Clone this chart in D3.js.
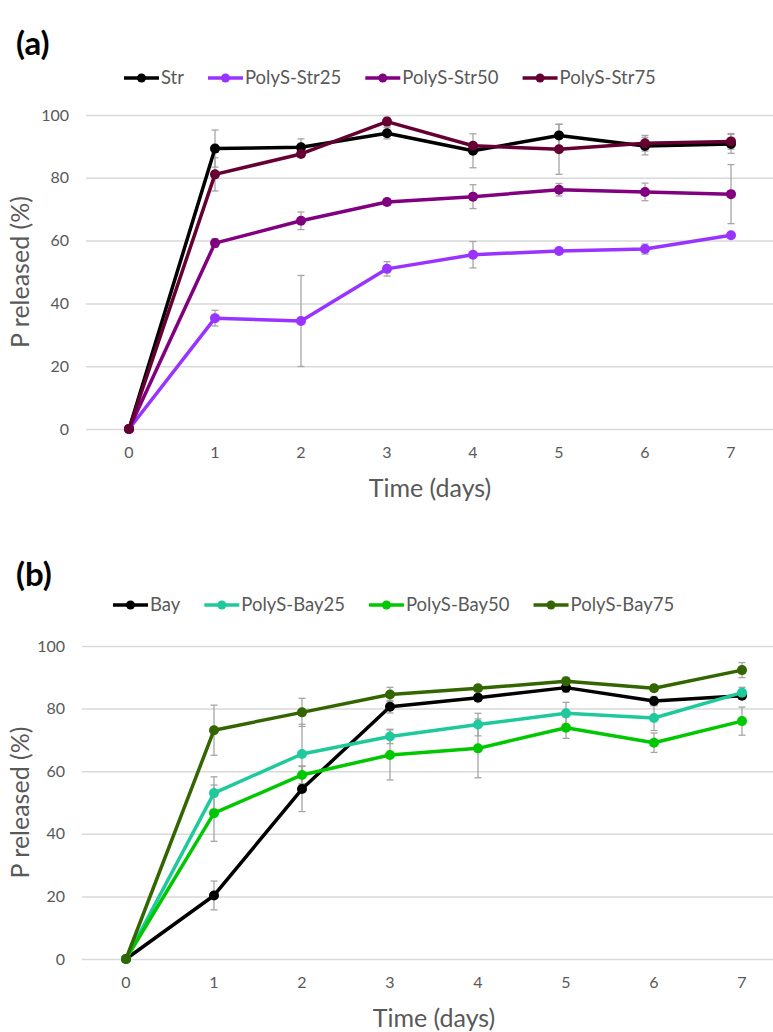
<!DOCTYPE html>
<html>
<head>
<meta charset="utf-8">
<script src="https://cdn.jsdelivr.net/npm/d3@7"></script>
<style>
  body { margin: 0; background: #fff; }
  text { font-family: Lato, "Open Sans", sans-serif; }
</style>
</head>
<body>
<div id="chart"></div>
<script>
const days = [0, 1, 2, 3, 4, 5, 6, 7];
const yTicks = [0, 20, 40, 60, 80, 100];

// panel (a)
const namesA = ["Str", "PolyS-Str25", "PolyS-Str50", "PolyS-Str75"];
const colorsA = ["#000000", "#9933FF", "#800080", "#660033"];
const strVals   = [0, 89.3, 89.7, 94.2, 88.6, 93.5, 90.1, 90.8];
const strErr    = [0, 5.9, 2.7, 1.8, 5.4, 3.5, 2.8, 3.0];
const str25Vals = [0, 35.3, 34.4, 51.0, 55.5, 56.7, 57.3, 61.7];
const str25Err  = [0, 2.5, 14.5, 2.3, 4.2, 0.5, 1.6, 0.6];
const str50Vals = [0, 59.2, 66.3, 72.3, 74.0, 76.2, 75.5, 74.8];
const str50Err  = [0, 1.4, 2.8, 1.0, 3.8, 2.0, 2.8, 9.4];
const str75Vals = [0, 81.1, 87.6, 97.9, 90.2, 89.1, 91.0, 91.6];
const str75Err  = [0, 5.3, 1.0, 1.4, 1.0, 8.0, 2.5, 2.5];

// panel (b)
const namesB = ["Bay", "PolyS-Bay25", "PolyS-Bay50", "PolyS-Bay75"];
const colorsB = ["#000000", "#1FC99B", "#00C800", "#336600"];
const bayVals   = [0, 20.3, 54.3, 80.6, 83.5, 86.7, 82.4, 84.1];
const bayErr    = [0, 4.6, 7.2, 2.0, 1.0, 1.5, 1.5, 1.0];
const bay25Vals = [0, 53.0, 65.5, 71.1, 74.9, 78.5, 77.0, 85.1];
const bay25Err  = [0, 5.2, 9.5, 2.3, 3.6, 3.5, 4.0, 1.7];
const bay50Vals = [0, 46.6, 58.8, 65.2, 67.3, 73.9, 69.1, 76.0];
const bay50Err  = [0, 9.0, 2.9, 8.0, 9.4, 3.4, 3.1, 4.5];
const bay75Vals = [0, 73.1, 78.8, 84.5, 86.5, 88.7, 86.5, 92.3];
const bay75Err  = [0, 8.0, 4.5, 2.3, 1.0, 1.3, 1.0, 2.4];

const svg = d3.select("#chart")
    .append("svg")
    .attr("width", 773)
    .attr("height", 1032);

function drawPanel(p) {
    const g = svg.append("g");

    // x is a category axis: each day sits in the middle of its slot
    const x = d3.scaleBand()
        .domain(days)
        .range([p.left, p.right]);
    const cx = d => x(d) + x.bandwidth() / 2;

    const y = d3.scaleLinear()
        .domain([0, 100])
        .range([p.bottom, p.top]);

    // gridlines + y labels
    const yAxis = g.append("g")
        .attr("transform", "translate(" + p.left + ",0)")
        .call(d3.axisLeft(y).tickValues(yTicks).tickSize(-(p.right - p.left)).tickPadding(17));
    yAxis.select(".domain").remove();
    yAxis.selectAll(".tick line").attr("stroke", "#d9d9d9").attr("stroke-width", 1.5);
    yAxis.selectAll(".tick text")
        .attr("fill", "#595959")
        .style("font-size", "16px");

    // x labels
    const xAxis = g.append("g")
        .attr("transform", "translate(0," + p.bottom + ")")
        .call(d3.axisBottom(x).tickSize(0).tickPadding(18));
    xAxis.select(".domain").remove();
    xAxis.selectAll(".tick text")
        .attr("fill", "#595959")
        .style("font-size", "16px");

    // axis titles
    g.append("text")
        .attr("x", (x(0) + x(7) + x.bandwidth()) / 2)
        .attr("y", p.bottom + 68)
        .attr("text-anchor", "middle")
        .attr("fill", "#595959")
        .style("font-size", "25px")
        .text("Time (days)");

    g.append("text")
        .attr("transform", "translate(" + p.ytitleX + "," + (p.top + p.bottom) / 2 + ") rotate(-90)")
        .attr("text-anchor", "middle")
        .attr("fill", "#595959")
        .style("font-size", "25px")
        .text("P released (%)");

    // panel letter
    g.append("text")
        .attr("x", 16)
        .attr("y", p.letterY)
        .attr("fill", "#000")
        .style("font-size", "33px")
        .style("font-weight", "bold")
        .text(p.letter);

    const line = d3.line()
        .x((d, i) => cx(days[i]))
        .y(d => y(d));

    // error bars under the lines
    p.series.forEach(s => {
        const eb = g.append("g")
            .attr("stroke", "#a6a6a6")
            .attr("stroke-width", 1.3);
        s.vals.forEach((v, i) => {
            const e = s.err[i];
            if (!e) return;
            const xx = cx(days[i]);
            eb.append("line").attr("x1", xx).attr("x2", xx).attr("y1", y(v - e)).attr("y2", y(v + e));
            eb.append("line").attr("x1", xx - 3.5).attr("x2", xx + 3.5).attr("y1", y(v - e)).attr("y2", y(v - e));
            eb.append("line").attr("x1", xx - 3.5).attr("x2", xx + 3.5).attr("y1", y(v + e)).attr("y2", y(v + e));
        });
    });

    p.series.forEach(s => {
        g.append("path")
            .datum(s.vals)
            .attr("fill", "none")
            .attr("stroke", s.color)
            .attr("stroke-width", 3.5)
            .attr("stroke-linejoin", "round")
            .attr("d", line);
        g.append("g")
            .selectAll("circle")
            .data(s.vals)
            .join("circle")
            .attr("cx", (d, i) => cx(days[i]))
            .attr("cy", d => y(d))
            .attr("r", 5)
            .attr("fill", s.color);
    });

    // legend
    const leg = g.append("g")
        .attr("transform", "translate(" + p.legendX + "," + p.legendY + ")");
    let lx = 0;
    p.series.forEach(s => {
        const item = leg.append("g").attr("transform", "translate(" + lx + ",0)");
        item.append("line")
            .attr("x1", 0).attr("x2", 35)
            .attr("y1", 0).attr("y2", 0)
            .attr("stroke", s.color)
            .attr("stroke-width", 3.5);
        item.append("circle")
            .attr("cx", 17.5).attr("cy", 0).attr("r", 4.5)
            .attr("fill", s.color);
        const t = item.append("text")
            .attr("x", 37)
            .attr("y", 0)
            .attr("dy", "0.35em")
            .attr("fill", "#595959")
            .style("font-size", "18.5px")
            .text(s.name);
        lx += 37 + t.node().getComputedTextLength() + 24;
    });
}

drawPanel({
    letter: "(a)", letterY: 55,
    left: 86, right: 774, top: 115, bottom: 429,
    ytitleX: 29,
    legendX: 124, legendY: 78,
    series: [
        {name: namesA[0], color: colorsA[0], vals: strVals, err: strErr},
        {name: namesA[1], color: colorsA[1], vals: str25Vals, err: str25Err},
        {name: namesA[2], color: colorsA[2], vals: str50Vals, err: str50Err},
        {name: namesA[3], color: colorsA[3], vals: str75Vals, err: str75Err}
    ]
});

drawPanel({
    letter: "(b)", letterY: 586,
    left: 82, right: 786, top: 646, bottom: 959,
    ytitleX: 29,
    legendX: 113, legendY: 605,
    series: [
        {name: namesB[0], color: colorsB[0], vals: bayVals, err: bayErr},
        {name: namesB[1], color: colorsB[1], vals: bay25Vals, err: bay25Err},
        {name: namesB[2], color: colorsB[2], vals: bay50Vals, err: bay50Err},
        {name: namesB[3], color: colorsB[3], vals: bay75Vals, err: bay75Err}
    ]
});
</script>
</body>
</html>
